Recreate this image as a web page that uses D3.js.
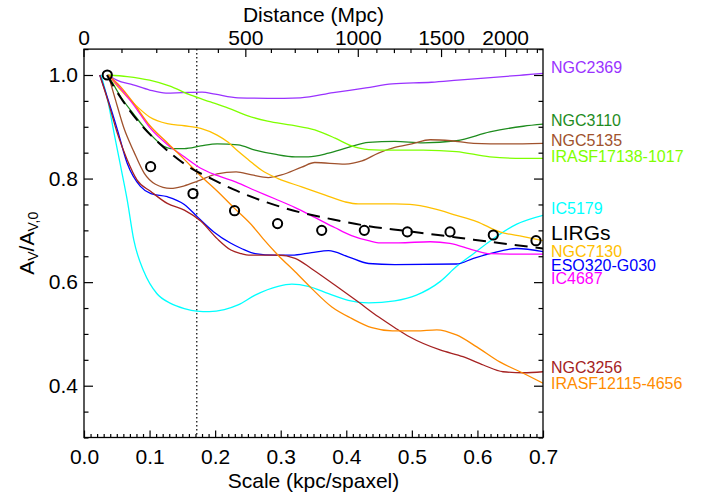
<!DOCTYPE html>
<html><head><meta charset="utf-8">
<script src="https://cdn.jsdelivr.net/npm/d3@7"></script>
<style>
body{margin:0;background:#fff}
svg{display:block}
text{font-family:"Liberation Sans",Arial,Helvetica,sans-serif;fill:#000}
</style>
</head><body>
<svg id="chart" width="702" height="492"></svg>
<script>
// ---------------- DATA ----------------
const galaxies = ["NGC2369","NGC3110","NGC5135","IRASF17138-1017","IC5179","NGC7130","ESO320-G030","IC4687","NGC3256","IRASF12115-4656"];
const colors   = ["#9A32FF","#1E8C1E","#A0522D","#7FFF00","#00FFFF","#FFC000","#0000FF","#FF00FF","#A52222","#FF8C00"];

const ngc2369 = [[0.037,1.0],[0.05,0.99],[0.075,0.981],[0.10,0.971],[0.125,0.965],[0.15,0.966],[0.18,0.967],[0.20,0.963],[0.235,0.956],[0.28,0.955],[0.33,0.956],[0.38,0.966],[0.43,0.975],[0.47,0.983],[0.53,0.986],[0.57,0.990],[0.62,0.995],[0.67,1.0],[0.70,1.003]];
const ngc3110 = [[0.037,1.0],[0.056,0.958],[0.076,0.924],[0.10,0.887],[0.132,0.858],[0.153,0.858],[0.178,0.863],[0.203,0.867],[0.235,0.865],[0.261,0.855],[0.291,0.847],[0.322,0.842],[0.342,0.842],[0.373,0.849],[0.403,0.860],[0.434,0.870],[0.474,0.872],[0.517,0.869],[0.568,0.873],[0.619,0.890],[0.67,0.901],[0.70,0.905]];
const ngc5135 = [[0.037,1.0],[0.048,0.952],[0.061,0.897],[0.076,0.852],[0.092,0.810],[0.109,0.789],[0.132,0.781],[0.153,0.786],[0.173,0.795],[0.203,0.809],[0.232,0.813],[0.256,0.807],[0.281,0.802],[0.301,0.807],[0.332,0.822],[0.352,0.831],[0.398,0.828],[0.424,0.834],[0.449,0.849],[0.474,0.860],[0.50,0.867],[0.528,0.875],[0.56,0.873],[0.594,0.868],[0.645,0.867],[0.70,0.868]];
const irasf17138 = [[0.037,1.0],[0.066,0.997],[0.10,0.99],[0.13,0.979],[0.163,0.961],[0.193,0.948],[0.22,0.936],[0.25,0.921],[0.28,0.911],[0.317,0.903],[0.352,0.894],[0.383,0.878],[0.408,0.863],[0.434,0.856],[0.47,0.855],[0.517,0.855],[0.568,0.852],[0.619,0.842],[0.67,0.839],[0.70,0.839]];
const ic5179 = [[0.026,1.0],[0.036,0.952],[0.046,0.887],[0.056,0.823],[0.066,0.758],[0.076,0.681],[0.0915,0.620],[0.111,0.578],[0.132,0.559],[0.153,0.549],[0.172,0.544],[0.191,0.543],[0.214,0.547],[0.235,0.556],[0.261,0.575],[0.296,0.592],[0.317,0.596],[0.342,0.592],[0.373,0.578],[0.403,0.565],[0.434,0.560],[0.474,0.564],[0.507,0.575],[0.543,0.601],[0.568,0.630],[0.594,0.655],[0.619,0.679],[0.66,0.712],[0.70,0.729]];
const ngc7130 = [[0.037,1.0],[0.056,0.971],[0.076,0.945],[0.10,0.919],[0.127,0.906],[0.153,0.902],[0.178,0.897],[0.203,0.884],[0.22,0.870],[0.232,0.856],[0.251,0.836],[0.271,0.816],[0.296,0.800],[0.332,0.784],[0.368,0.768],[0.398,0.755],[0.418,0.751],[0.474,0.751],[0.497,0.750],[0.533,0.742],[0.568,0.729],[0.599,0.717],[0.634,0.697],[0.67,0.688],[0.70,0.680]];
const eso320 = [[0.024,1.0],[0.036,0.955],[0.051,0.894],[0.066,0.829],[0.086,0.785],[0.102,0.771],[0.127,0.765],[0.153,0.750],[0.173,0.726],[0.198,0.697],[0.224,0.675],[0.24,0.665],[0.261,0.655],[0.291,0.652],[0.317,0.652],[0.347,0.657],[0.373,0.661],[0.403,0.649],[0.434,0.636],[0.474,0.634],[0.568,0.635],[0.594,0.646],[0.619,0.655],[0.66,0.665],[0.70,0.659]];
const ic4687 = [[0.037,1.0],[0.056,0.974],[0.076,0.942],[0.10,0.899],[0.127,0.866],[0.153,0.842],[0.178,0.820],[0.203,0.806],[0.232,0.793],[0.261,0.777],[0.291,0.761],[0.322,0.744],[0.352,0.725],[0.383,0.705],[0.408,0.690],[0.434,0.680],[0.449,0.676],[0.48,0.676],[0.528,0.678],[0.558,0.675],[0.594,0.662],[0.619,0.655],[0.67,0.654],[0.70,0.654]];
const ngc3256 = [[0.024,1.0],[0.036,0.952],[0.051,0.887],[0.066,0.836],[0.081,0.797],[0.102,0.775],[0.127,0.752],[0.153,0.739],[0.178,0.718],[0.203,0.684],[0.224,0.662],[0.24,0.655],[0.251,0.652],[0.296,0.652],[0.322,0.646],[0.347,0.626],[0.383,0.594],[0.418,0.562],[0.449,0.533],[0.474,0.512],[0.497,0.494],[0.543,0.469],[0.578,0.456],[0.609,0.440],[0.639,0.427],[0.67,0.425],[0.70,0.427]];
const irasf12115 = [[0.037,1.0],[0.056,0.977],[0.076,0.945],[0.10,0.903],[0.127,0.869],[0.153,0.837],[0.178,0.805],[0.203,0.776],[0.23,0.742],[0.258,0.707],[0.273,0.684],[0.296,0.652],[0.322,0.620],[0.347,0.588],[0.378,0.552],[0.408,0.530],[0.439,0.512],[0.47,0.506],[0.507,0.506],[0.538,0.508],[0.568,0.498],[0.599,0.475],[0.634,0.446],[0.67,0.424],[0.70,0.405]];
const series = [ngc2369, ngc3110, ngc5135, irasf17138, ic5179, ngc7130, eso320, ic4687, ngc3256, irasf12115];

// LIRGs: median points (circles) and dashed fit
const lirgScale  = [0.0355,0.1016,0.1662,0.2296,0.2952,0.3625,0.4275,0.4931,0.5582,0.6242,0.6893];
const lirgMedian = [1.0,0.823,0.771,0.738,0.713,0.700,0.700,0.697,0.697,0.691,0.680];
const lirgFit = [[0.035,1.0],[0.055,0.958],[0.085,0.907],[0.121,0.861],[0.157,0.825],[0.197,0.798],[0.228,0.779],[0.279,0.754],[0.329,0.735],[0.38,0.721],[0.43,0.709],[0.49,0.699],[0.54,0.691],[0.594,0.682],[0.65,0.673],[0.70,0.665]];

// axis ticks
const xMajor = [0.0,0.1,0.2,0.3,0.4,0.5,0.6,0.7];
const yMajor = [0.4,0.6,0.8,1.0];
const distMajor = [0,500,1000,1500,2000];
const refScale = 0.172; // dotted vertical line

// label layout (value units, placed by the y scale)
const labelY = [1.0147,0.9123,0.8736,0.8427,0.7422,0.6597,0.6327,0.6070,0.4350,0.4041];
const lirgLabelY = 0.6955;

// ---------------- CHART ----------------
const L = 84, R = 543, T = 49.1, B = 437.5;
const svg = d3.select("#chart");
const x = d3.scaleLinear().domain([0,0.7]).range([L,R]);
const y = d3.scaleLinear().domain([0.3,1.05]).range([B,T]);

// cosmology for the top axis (flat LCDM, H0=70, Om=0.3); spaxel 0.125"
const spaxelRad = 0.125/206265;
function lumDist(z){
  const n=300, dz=z/n; let s=0;
  for(let i=0;i<n;i++){const zz=(i+0.5)*dz; s+=dz/Math.sqrt(0.3*Math.pow(1+zz,3)+0.7);}
  return 299792.458/70*s*(1+z);
}
function distToScale(D){
  if(D<=0) return 0;
  let lo=0,hi=3;
  for(let k=0;k<60;k++){const m=(lo+hi)/2; if(lumDist(m)<D) lo=m; else hi=m;}
  const z=(lo+hi)/2;
  return D/Math.pow(1+z,2)*1000*spaxelRad;
}

svg.append("clipPath").attr("id","clip").append("rect").attr("x",L).attr("y",T).attr("width",R-L).attr("height",B-T);

svg.append("line").attr("x1",x(refScale)).attr("x2",x(refScale)).attr("y1",T).attr("y2",B)
  .attr("stroke","#000").attr("stroke-width",1.2).attr("stroke-dasharray","1.3,2.7");

const line = d3.line().x(d=>x(d[0])).y(d=>y(d[1])).curve(d3.curveMonotoneX);
const g = svg.append("g").attr("clip-path","url(#clip)");
series.forEach((s,i)=>{
  g.append("path").datum(s).attr("d",line).attr("fill","none")
   .attr("stroke",colors[i]).attr("stroke-width",1.3);
});
g.append("path").datum(lirgFit).attr("d",line).attr("fill","none")
  .attr("stroke","#000").attr("stroke-width",2).attr("stroke-dasharray","13,8");
g.selectAll("circle.m").data(lirgScale.map((s,i)=>[s,lirgMedian[i]])).enter().append("circle")
  .attr("cx",d=>x(d[0])).attr("cy",d=>y(d[1])).attr("r",4.6)
  .attr("fill","none").attr("stroke","#000").attr("stroke-width",2);

const fs = 21;
const xMinor = d3.range(0,71).map(i=>i/100).filter(v=>Math.round(v*100)%10!==0);
const yMinor = d3.range(6,22).map(i=>i*0.05).filter(v=>v>=0.3&&v<=1.05&&!yMajor.some(m=>Math.abs(m-v)<1e-6));

function styleAxis(sel){
  sel.select(".domain").remove();
  sel.selectAll("line").attr("stroke","#000").attr("stroke-width",1.2);
  sel.selectAll("text").attr("font-size",fs).attr("font-family","Liberation Sans, Arial, sans-serif").attr("fill","#000");
}
svg.append("g").attr("transform",`translate(0,${B})`)
  .call(d3.axisBottom(x).tickValues(xMajor).tickFormat(d3.format(".1f")).tickSize(-7).tickPadding(12).tickSizeOuter(0)).call(styleAxis);
svg.append("g").attr("transform",`translate(0,${B})`)
  .call(d3.axisBottom(x).tickValues(xMinor).tickFormat("").tickSize(-3.5).tickSizeOuter(0)).call(styleAxis);
svg.append("g").attr("transform",`translate(${L},0)`)
  .call(d3.axisLeft(y).tickValues(yMajor).tickFormat(d3.format(".1f")).tickSize(-9).tickPadding(6).tickSizeOuter(0)).call(styleAxis);
svg.append("g").attr("transform",`translate(${L},0)`)
  .call(d3.axisLeft(y).tickValues(yMinor).tickFormat("").tickSize(-4.5).tickSizeOuter(0)).call(styleAxis);
svg.append("g").attr("transform",`translate(${R},0)`)
  .call(d3.axisRight(y).tickValues(yMajor).tickFormat("").tickSize(-9).tickSizeOuter(0)).call(styleAxis);
svg.append("g").attr("transform",`translate(${R},0)`)
  .call(d3.axisRight(y).tickValues(yMinor).tickFormat("").tickSize(-4.5).tickSizeOuter(0)).call(styleAxis);

const topG = svg.append("g");
const distMinor = d3.range(100,2400,100).filter(d=>!distMajor.includes(d) && distToScale(d)<=0.7);
distMinor.forEach(d=>{
  const px = x(distToScale(d));
  topG.append("line").attr("x1",px).attr("x2",px).attr("y1",T).attr("y2",T+4).attr("stroke","#000").attr("stroke-width",1.2);
});
distMajor.forEach(d=>{
  const px = x(distToScale(d));
  topG.append("line").attr("x1",px).attr("x2",px).attr("y1",T).attr("y2",T+8).attr("stroke","#000").attr("stroke-width",1.2);
  topG.append("text").attr("x",px).attr("y",45).attr("text-anchor","middle").attr("font-size",fs).text(d);
});

svg.append("rect").attr("x",L).attr("y",T).attr("width",R-L).attr("height",B-T)
  .attr("fill","none").attr("stroke","#000").attr("stroke-width",1.3);

svg.append("text").attr("x",(L+R)/2).attr("y",22).attr("text-anchor","middle").attr("font-size",fs).text("Distance (Mpc)");
svg.append("text").attr("x",(L+R)/2).attr("y",488).attr("text-anchor","middle").attr("font-size",fs).text("Scale (kpc/spaxel)");
const yt = svg.append("text").attr("transform",`translate(34,${(T+B)/2}) rotate(-90)`).attr("text-anchor","middle").attr("font-size",fs);
yt.append("tspan").text("A");
yt.append("tspan").attr("font-size",14).attr("dy",4).text("V");
yt.append("tspan").attr("dy",-4).text("/A");
yt.append("tspan").attr("font-size",14).attr("dy",4).text("V,0");

galaxies.forEach((name,i)=>{
  svg.append("text").attr("x",551).attr("y",y(labelY[i])).attr("dy","0.35em")
    .attr("font-size",16).style("fill",colors[i]).text(name);
});
svg.append("text").attr("x",551).attr("y",y(lirgLabelY)).attr("dy","0.35em").attr("font-size",21).text("LIRGs");
</script>
</body></html>
